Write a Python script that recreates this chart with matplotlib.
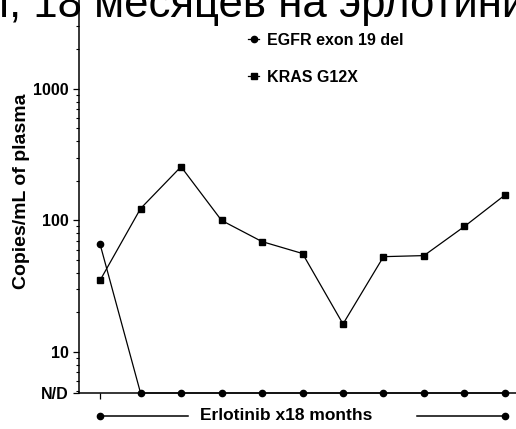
import matplotlib.pyplot as plt
import matplotlib.transforms as mtransforms

visits = list(range(11))
egfr = [66, 0, 0, 0, 0, 0, 0, 0, 0, 0, 0]
kras = [35, 123, 256, 100, 69, 56, 16.3, 53, 54, 90, 156]
nd_value = 4.87
ytick_vals = [nd_value, 10, 100, 1000]
ytick_labels = ["N/D", "10", "100", "1000"]

plt.rcParams['font.family'] = ['Liberation Sans', 'DejaVu Sans']

fig = plt.figure(figsize=(5.16, 4.29), dpi=100)
ax = fig.add_axes([79 / 516, 36 / 429, 445 / 516, 403 / 429])

egfr_plot = [v if v > 0 else nd_value for v in egfr]
ax.plot(visits, egfr_plot, color='black', lw=0.9, marker='o', ms=4.5,
        label='EGFR exon 19 del', clip_on=False, zorder=3)
ax.plot(visits, kras, color='black', lw=0.9, marker='s', ms=4.5,
        label='KRAS G12X', clip_on=False, zorder=3)

ax.set_yscale('log')
ax.set_ylim(nd_value, 5650)
ax.set_xlim(-0.52, 10.47)
ax.set_yticks(ytick_vals)
ax.set_yticklabels(ytick_labels, fontweight='bold', fontsize=11.5)
ax.tick_params(axis='y', which='major', length=4, width=0.9, direction='out')
ax.tick_params(axis='y', which='minor', length=2, width=0.8, direction='out')
ax.set_xticks([0])
ax.set_xticklabels([])
ax.tick_params(axis='x', length=4, width=0.9)
for s in ['top', 'right']:
    ax.spines[s].set_visible(False)
for s in ['left', 'bottom']:
    ax.spines[s].set_linewidth(1.1)

ax.set_ylabel('Copies/mL of plasma', fontweight='bold', fontsize=14, labelpad=2)

ax.legend(loc='upper left', bbox_to_anchor=(248 / 516, 1 - 33 / 429),
          bbox_transform=fig.transFigure, frameon=False, borderpad=0,
          borderaxespad=0, handlelength=0.7, handletextpad=0.5, labelspacing=1.35,
          prop={'weight': 'bold', 'size': 11.5})

# treatment bar below the axis
trans = mtransforms.blended_transform_factory(ax.transData, ax.transAxes)
yb = -22.7 / 403
ax.plot([0, 2.17], [yb, yb], color='black', lw=1.1, transform=trans, clip_on=False)
ax.plot([7.83, 10], [yb, yb], color='black', lw=1.1, transform=trans, clip_on=False)
ax.plot([0, 10], [yb, yb], ls='none', marker='o', ms=4.5, color='black',
        transform=trans, clip_on=False)
ax.text(4.6, yb, 'Erlotinib x18 months', transform=trans, ha='center', va='center',
        fontweight='bold', fontsize=12.5)

fig.text(-6 / 516, 1 - 17 / 429, 'т, 18 месяцев на эрлотинибе', fontsize=31.5,
         va='baseline', ha='left')

fig.savefig('out.png', dpi=100)
